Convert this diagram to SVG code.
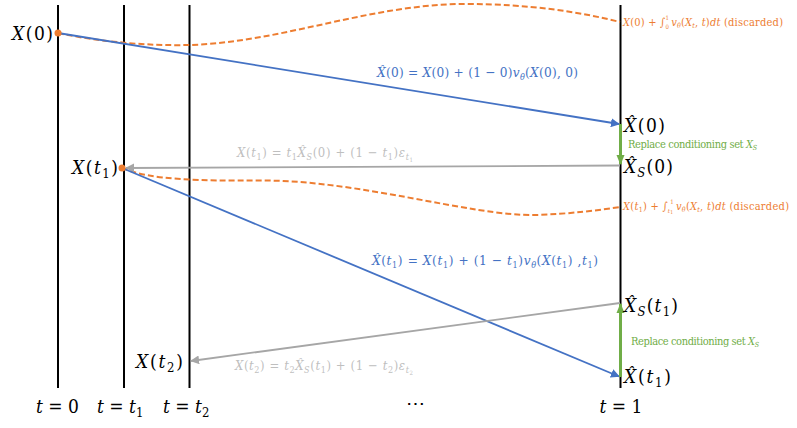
<svg xmlns="http://www.w3.org/2000/svg" width="797" height="428" viewBox="0 0 797 428">
<defs>
<style>
text{font-family:'DejaVu Serif Condensed','DejaVu Serif',serif;}
.i{font-style:italic;}
.big{font-size:19px;fill:#000;}
.blue{font-size:13.5px;fill:#4472C4;}
.org{font-size:11px;fill:#ED7D31;}
.grn{font-size:11px;fill:#70AD47;}
.gry{font-size:13px;fill:#BFBFBF;}
.axis{stroke:#000;stroke-width:2;fill:none;}
.bl{stroke:#4472C4;stroke-width:1.8;fill:none;}
.gl{stroke:#A6A6A6;stroke-width:1.8;fill:none;}
.gn{stroke:#70AD47;stroke-width:3;fill:none;}
.od{stroke:#ED7D31;stroke-width:2;fill:none;stroke-dasharray:6,3;}
</style>
<marker id="ab" viewBox="0 0 10 10" refX="9" refY="5" markerWidth="5" markerHeight="5" orient="auto" markerUnits="strokeWidth"><path d="M0,0 L10,5 L0,10 z" fill="#4472C4"/></marker>
<marker id="ag" viewBox="0 0 10 10" refX="9" refY="5" markerWidth="5" markerHeight="5" orient="auto" markerUnits="strokeWidth"><path d="M0,0 L10,5 L0,10 z" fill="#A6A6A6"/></marker>
</defs>
<rect width="797" height="428" fill="#fff"/>

<g id="timelines">
<line class="axis" x1="58" y1="5" x2="58" y2="388"/>
<line class="axis" x1="124" y1="5" x2="124" y2="388"/>
<line class="axis" x1="189.5" y1="5" x2="189.5" y2="388"/>
<line class="axis" x1="620.5" y1="5" x2="620.5" y2="388"/>
</g>

<g id="connectors">
<path class="od" d="M58,33 C100,42 150,46 188,45 C280,43 370,4 465,4 C530,4 580,12 620,22"/>
<path class="od" d="M122,168 C150,180 200,181 260,180.5 C360,180 470,216 535,215 C570,214 600,210 620,207"/>
<line class="bl" x1="58" y1="33" x2="619" y2="124" marker-end="url(#ab)"/>
<line class="gl" x1="620" y1="165.5" x2="126" y2="168" marker-end="url(#ag)"/>
<line class="bl" x1="122" y1="168" x2="619" y2="376.5" marker-end="url(#ab)"/>
<line class="gl" x1="620" y1="303" x2="191" y2="361" marker-end="url(#ag)"/>
<line class="gn" x1="620.5" y1="124" x2="620.5" y2="164"/>
<path d="M616.5,155 L620.5,165 L624.5,155 z" fill="#70AD47"/>
<line class="gn" x1="620.5" y1="377" x2="620.5" y2="304"/>
<path d="M616.5,313 L620.5,303 L624.5,313 z" fill="#70AD47"/>
<circle cx="58" cy="33" r="3.5" fill="#ED7D31"/>
<circle cx="122" cy="168" r="3.5" fill="#ED7D31"/>
</g>

<g id="node-x0"><text class="big" x="12" y="40" textLength="41"><tspan class="i">X</tspan>(0)</text></g>
<g id="node-xt1"><text class="big" x="72" y="174" textLength="46"><tspan class="i">X</tspan>(<tspan class="i">t</tspan><tspan font-size="13" dy="4">1</tspan><tspan dy="-4">)</tspan></text></g>
<g id="node-xt2"><text class="big" x="136" y="368" textLength="47"><tspan class="i">X</tspan>(<tspan class="i">t</tspan><tspan font-size="13" dy="4">2</tspan><tspan dy="-4">)</tspan></text></g>
<g id="node-xhat0"><text class="big" x="624" y="132" textLength="41"><tspan class="i">X̂</tspan>(0)</text></g>
<g id="node-xhats0"><text class="big" x="624" y="173" textLength="49"><tspan class="i">X̂</tspan><tspan class="i" font-size="13" dy="4">S</tspan><tspan dy="-4">(0)</tspan></text></g>
<g id="node-xhats1"><text class="big" x="624" y="312" textLength="54"><tspan class="i">X̂</tspan><tspan class="i" font-size="13" dy="4">S</tspan><tspan dy="-4">(</tspan><tspan class="i">t</tspan><tspan font-size="13" dy="4">1</tspan><tspan dy="-4">)</tspan></text></g>
<g id="node-xhat1"><text class="big" x="624" y="383" textLength="47"><tspan class="i">X̂</tspan>(<tspan class="i">t</tspan><tspan font-size="13" dy="4">1</tspan><tspan dy="-4">)</tspan></text></g>

<g id="edge-labels">
<text class="blue" x="377" y="77" textLength="201"><tspan class="i">X̂</tspan>(0) = <tspan class="i">X</tspan>(0) + (1 − 0)<tspan class="i">v</tspan><tspan class="i" font-size="9" dy="3">θ</tspan><tspan dy="-3">(</tspan><tspan class="i">X</tspan>(0), 0)</text>
<text class="blue" x="372" y="265" textLength="226"><tspan class="i">X̂</tspan>(<tspan class="i">t</tspan><tspan font-size="9" dy="3">1</tspan><tspan dy="-3">) = </tspan><tspan class="i">X</tspan>(<tspan class="i">t</tspan><tspan font-size="9" dy="3">1</tspan><tspan dy="-3">) + (1 − </tspan><tspan class="i">t</tspan><tspan font-size="9" dy="3">1</tspan><tspan dy="-3">)</tspan><tspan class="i">v</tspan><tspan class="i" font-size="9" dy="3">θ</tspan><tspan dy="-3">(</tspan><tspan class="i">X</tspan>(<tspan class="i">t</tspan><tspan font-size="9" dy="3">1</tspan><tspan dy="-3">) ,</tspan><tspan class="i">t</tspan><tspan font-size="9" dy="3">1</tspan><tspan dy="-3">)</tspan></text>
<text class="gry" x="237" y="157" textLength="176"><tspan class="i">X</tspan>(<tspan class="i">t</tspan><tspan font-size="9" dy="3">1</tspan><tspan dy="-3">) = </tspan><tspan class="i">t</tspan><tspan font-size="9" dy="3">1</tspan><tspan class="i" dy="-3">X̂</tspan><tspan class="i" font-size="9" dy="3">S</tspan><tspan dy="-3">(0) + (1 − </tspan><tspan class="i">t</tspan><tspan font-size="9" dy="3">1</tspan><tspan dy="-3">)</tspan><tspan class="i">ε</tspan><tspan class="i" font-size="9" dy="3">t</tspan><tspan font-size="6" dy="2">1</tspan></text>
<text class="gry" x="235" y="370" textLength="178"><tspan class="i">X</tspan>(<tspan class="i">t</tspan><tspan font-size="9" dy="3">2</tspan><tspan dy="-3">) = </tspan><tspan class="i">t</tspan><tspan font-size="9" dy="3">2</tspan><tspan class="i" dy="-3">X̂</tspan><tspan class="i" font-size="9" dy="3">S</tspan><tspan dy="-3">(</tspan><tspan class="i">t</tspan><tspan font-size="9" dy="3">1</tspan><tspan dy="-3">) + (1 − </tspan><tspan class="i">t</tspan><tspan font-size="9" dy="3">2</tspan><tspan dy="-3">)</tspan><tspan class="i">ε</tspan><tspan class="i" font-size="9" dy="3">t</tspan><tspan font-size="6" dy="2">2</tspan></text>
<text class="org" x="623" y="26" textLength="160"><tspan class="i">X</tspan>(0) + ∫<tspan font-size="6" dy="3">0</tspan><tspan font-size="6" dx="-3.5" dy="-9">1</tspan><tspan class="i" dx="2" dy="6">v</tspan><tspan class="i" font-size="7" dy="2">θ</tspan><tspan dy="-2">(</tspan><tspan class="i">X</tspan><tspan class="i" font-size="7" dy="2">t</tspan><tspan dy="-2">, </tspan><tspan class="i">t</tspan>)<tspan class="i">dt</tspan> (discarded)</text>
<text class="org" x="623" y="210" textLength="166"><tspan class="i">X</tspan>(<tspan class="i">t</tspan><tspan font-size="7" dy="2">1</tspan><tspan dy="-2">) + ∫</tspan><tspan class="i" font-size="6" dy="3">t</tspan><tspan font-size="5" dy="1">1</tspan><tspan font-size="6" dx="-3" dy="-10">1</tspan><tspan class="i" dx="2" dy="6">v</tspan><tspan class="i" font-size="7" dy="2">θ</tspan><tspan dy="-2">(</tspan><tspan class="i">X</tspan><tspan class="i" font-size="7" dy="2">t</tspan><tspan dy="-2">, </tspan><tspan class="i">t</tspan>)<tspan class="i">dt</tspan> (discarded)</text>
<text class="grn" x="628" y="148" textLength="129">Replace conditioning set <tspan class="i">X</tspan><tspan class="i" font-size="7" dy="2">S</tspan></text>
<text class="grn" x="631" y="345" textLength="128">Replace conditioning set <tspan class="i">X</tspan><tspan class="i" font-size="7" dy="2">S</tspan></text>
</g>

<g id="axis-labels">
<text class="big" x="57.5" y="413" text-anchor="middle"><tspan class="i">t</tspan> = 0</text>
<text class="big" x="97" y="413"><tspan class="i">t</tspan> = <tspan class="i">t</tspan><tspan font-size="13" dy="4">1</tspan></text>
<text class="big" x="163" y="413"><tspan class="i">t</tspan> = <tspan class="i">t</tspan><tspan font-size="13" dy="4">2</tspan></text>
<text class="big" x="415" y="410" text-anchor="middle">⋯</text>
<text class="big" x="621" y="413" text-anchor="middle"><tspan class="i">t</tspan> = 1</text>
</g>
</svg>
